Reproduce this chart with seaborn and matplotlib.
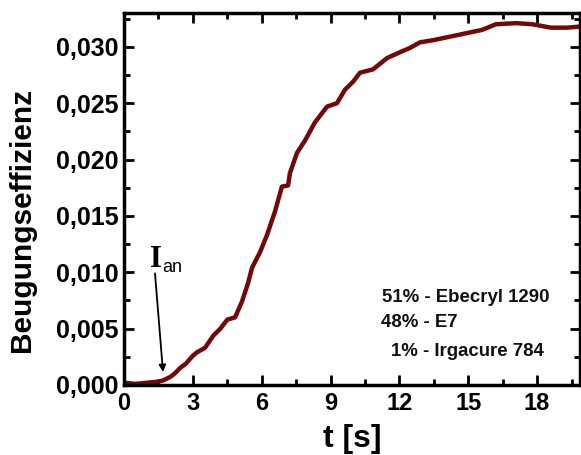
import numpy as np
import pandas as pd
import matplotlib
matplotlib.use("Agg")
import matplotlib.pyplot as plt
import seaborn as sns
from matplotlib.ticker import MultipleLocator, FixedLocator

# ---- data ----
time_s = [0.0, 0.5, 1.0, 1.5, 1.7, 2.0, 2.2, 2.44, 2.7, 3.0, 3.18, 3.53, 3.9, 4.2,
          4.5, 4.84, 5.14, 5.4, 5.58, 5.93, 6.23, 6.58, 6.88, 7.15, 7.23, 7.54,
          7.89, 8.32, 8.85, 9.28, 9.63, 9.98, 10.28, 10.85, 11.46, 12.0, 12.46,
          12.9, 13.5, 14.2, 14.9, 15.6, 16.2, 17.1, 17.8, 18.6, 19.3, 19.9]
efficiency = [0.0002, 0.0001, 0.0002, 0.0003, 0.0004, 0.0007, 0.0010, 0.0015, 0.0019,
              0.0026, 0.0029, 0.0033, 0.0044, 0.0050, 0.0058, 0.0060, 0.0074, 0.0090,
              0.0104, 0.0118, 0.0133, 0.0154, 0.0176, 0.0177, 0.0188, 0.0206, 0.0217,
              0.0233, 0.0247, 0.0250, 0.0262, 0.0269, 0.0277, 0.0280, 0.0290, 0.0295,
              0.0299, 0.0304, 0.0306, 0.0309, 0.0312, 0.0315, 0.0320, 0.0321, 0.0320,
              0.0317, 0.0317, 0.0318]

x_ticks = [0, 3, 6, 9, 12, 15, 18]
x_tick_labels = ["0", "3", "6", "9", "12", "15", "18"]
y_ticks = [0.000, 0.005, 0.010, 0.015, 0.020, 0.025, 0.030]
y_tick_labels = ["0,000", "0,005", "0,010", "0,015", "0,020", "0,025", "0,030"]

composition = ["51% - Ebecryl 1290", "48% - E7", "1% - Irgacure 784"]

x_label = "t [s]"
y_label = "Beugungseffizienz"

# ---- plot ----
sns.set_theme(style="ticks")
plt.rcParams['font.family'] = ['Liberation Sans', 'DejaVu Sans']

fig = plt.figure(figsize=(5.81, 4.55), dpi=100)
ax = fig.add_axes([124/581, 70/455, 456/581, 372/455])

df = pd.DataFrame({"t": time_s, "eff": efficiency})
sns.lineplot(data=df, x="t", y="eff", ax=ax, color="#730808", lw=3.2,
             estimator=None, sort=False)

ax.set_xlim(0, 19.87)
ax.set_ylim(0, 0.033)

ax.xaxis.set_major_locator(FixedLocator(x_ticks))
ax.set_xticklabels(x_tick_labels)
ax.xaxis.set_minor_locator(MultipleLocator(1.5))
ax.yaxis.set_major_locator(FixedLocator(y_ticks))
ax.set_yticklabels(y_tick_labels)
ax.yaxis.set_minor_locator(MultipleLocator(0.0025))

ax.tick_params(axis='both', which='major', direction='in', length=7, width=2,
               top=True, right=True, labelsize=17, pad=5, color='black')
ax.tick_params(axis='y', which='major', labelsize=18, pad=4)
ax.tick_params(axis='both', which='minor', direction='in', length=4, width=2,
               top=True, right=True, color='black')
for lab in ax.get_xticklabels() + ax.get_yticklabels():
    lab.set_fontweight('bold')
    lab.set_color('black')

for s in ax.spines.values():
    s.set_linewidth(2.5)
    s.set_color('black')

ax.set_xlabel(x_label, fontsize=23, fontweight='bold', color='black', labelpad=0)
ax.set_ylabel(y_label, fontsize=21.5, fontweight='bold', color='black')
ax.yaxis.set_label_coords(-0.193, 0.444)
ax.xaxis.set_label_coords(0.5, -0.105)

# composition text
ys = [0.235, 0.168, 0.090]
xs = [0.566, 0.564, 0.586]
for txt, xx, yy in zip(composition, xs, ys):
    ax.text(xx, yy, txt, transform=ax.transAxes, fontsize=13.4, fontweight='bold',
            color='#111111', ha='left', va='center')

# I_an annotation
ax.annotate("", xy=(1.70, 0.00115), xytext=(1.35, 0.0099),
            arrowprops=dict(arrowstyle="-|>", color='black', lw=1.3,
                            mutation_scale=10, shrinkA=0, shrinkB=0))
ax.text(1.13, 0.0105, "I", family=['Liberation Serif'], fontweight='bold',
        fontsize=22, color='black', ha='left', va='baseline')
ax.text(1.66, 0.0100, "an", fontsize=13, color='black', ha='left', va='baseline')

fig.savefig("out.png", dpi=100)
